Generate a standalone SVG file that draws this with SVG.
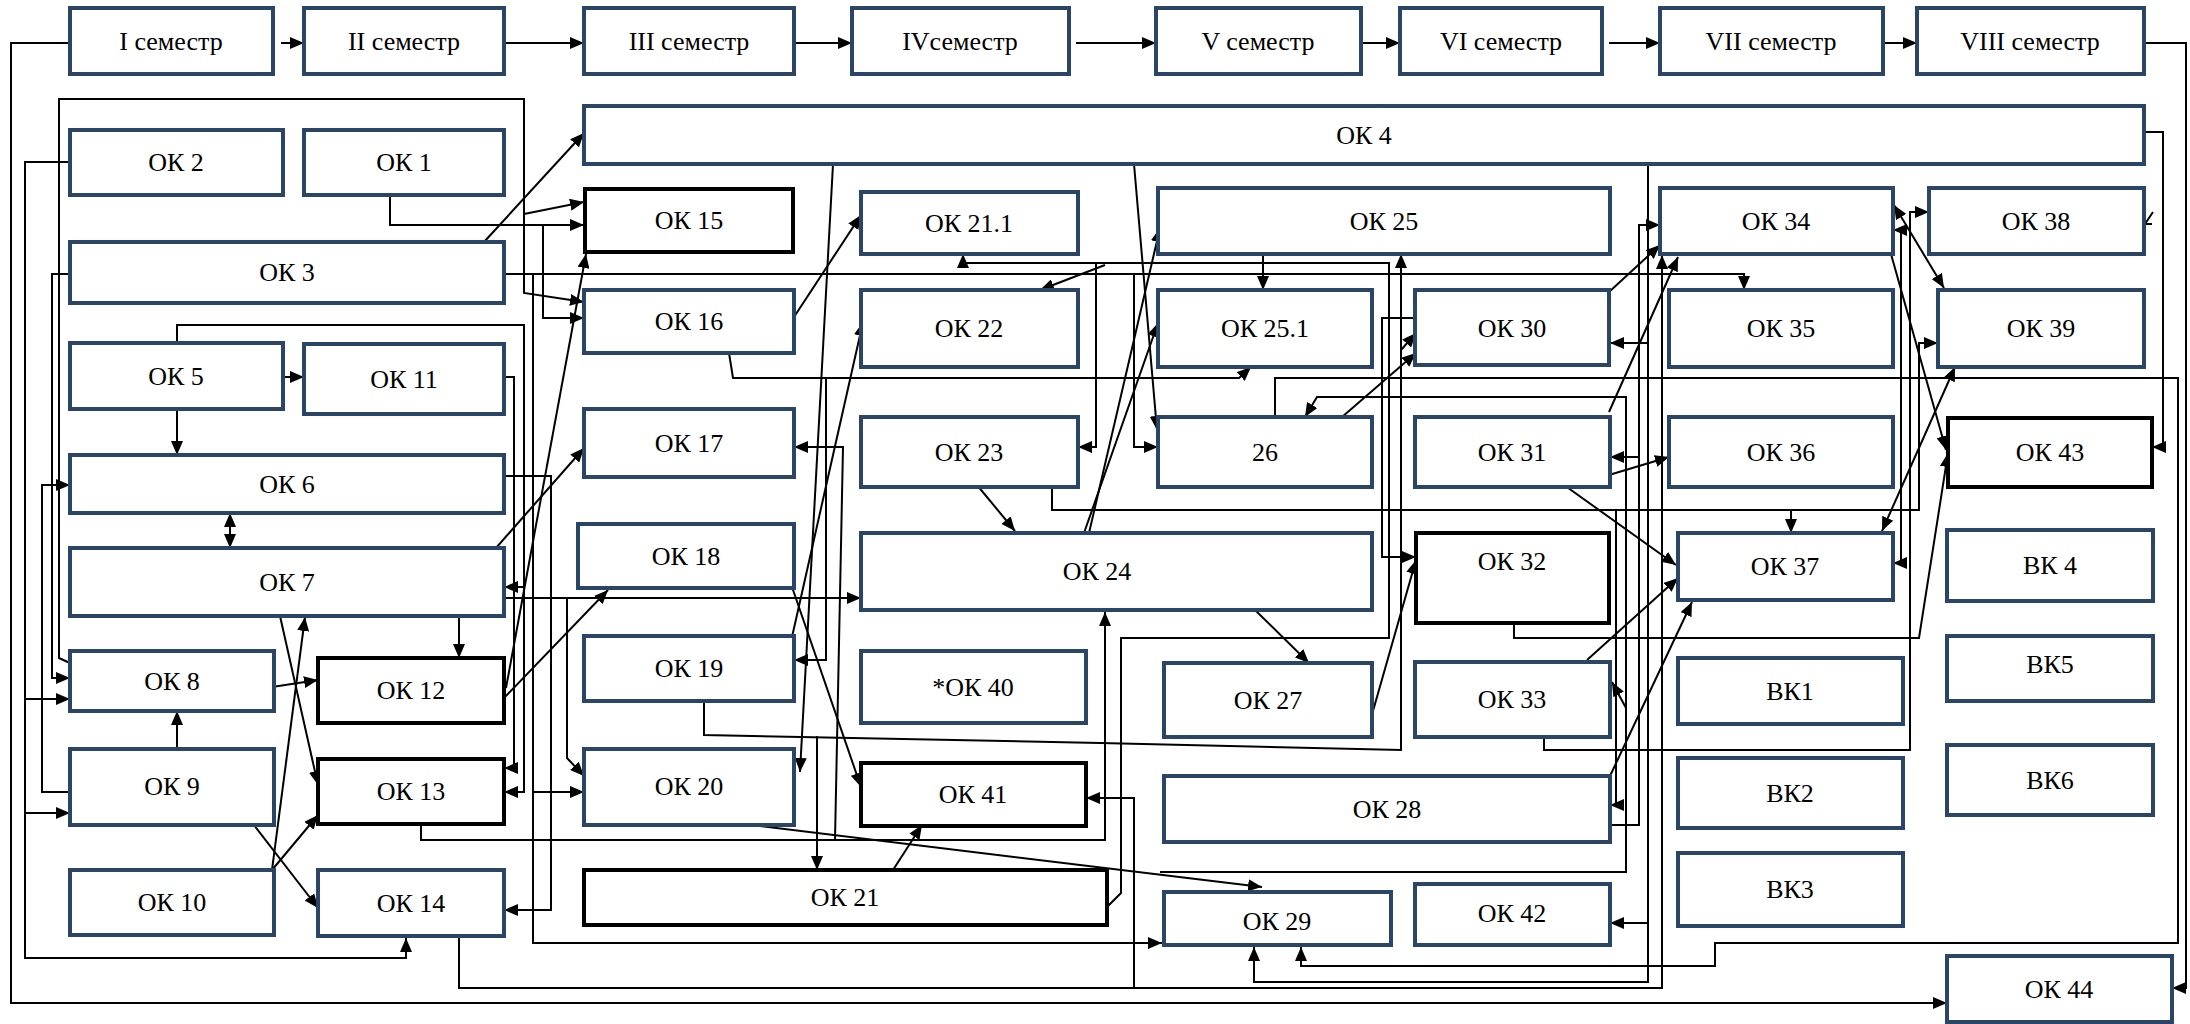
<svg xmlns="http://www.w3.org/2000/svg" width="2190" height="1024" viewBox="0 0 2190 1024">
<style>
.n rect{fill:#fff;stroke:#2b4566;stroke-width:4}
.b rect{fill:#fff;stroke:#000;stroke-width:4}
text{font-family:"Liberation Serif","Times New Roman",serif;font-size:26px;text-anchor:middle;fill:#000}
#conn path{fill:none;stroke:#000;stroke-width:2;marker-end:url(#a)}
#conn path.p{marker-end:none}
#conn path.d{marker-start:url(#a)}
</style>
<defs>
<marker id="a" viewBox="0 0 14 12" refX="14" refY="6" markerWidth="14" markerHeight="12" markerUnits="userSpaceOnUse" orient="auto-start-reverse"><path d="M0,0 L14,6 L0,12 z" fill="#000"/></marker>
</defs>
<rect width="2190" height="1024" fill="#fff"/>
<g id="conn">
<path d="M281,43 H304"/>
<path d="M504,43 H584"/>
<path d="M794,43 H852"/>
<path d="M1076,43 H1156"/>
<path d="M1361,43 H1400"/>
<path d="M1609,43 H1660"/>
<path d="M1883,43 H1917"/>
<path d="M2144,43 H2186 V988 H2172"/>
<path d="M70,43 H11 V1003 H1947"/>
<path d="M72,664 L59,658 V99 H524 V293 L584,302"/>
<path d="M524,214 L584,202"/>
<path d="M390,195 V225 H584"/>
<path d="M543,225 V318 H584"/>
<path d="M70,162 H25 V958 H406 V938"/>
<path d="M25,699 H70"/>
<path d="M25,813 H70"/>
<path d="M70,274 H52 V678 H70"/>
<path d="M70,792 H42 V485 H70"/>
<path d="M484,242 L584,133"/>
<path d="M504,274 H1744 V290"/>
<path d="M533,274 V943 H1162"/>
<path d="M533,792 H584"/>
<path d="M1134,274 V447 H1158"/>
<path d="M177,409 V455"/>
<path d="M283,377 H304"/>
<path d="M177,343 V325 H524 V792 H504"/>
<path d="M524,587 H504"/>
<path class="d" d="M230,513 V548"/>
<path d="M504,377 H514 V768 H504"/>
<path d="M504,476 H551 V910 H504"/>
<path d="M504,598 H861"/>
<path d="M567,598 V758 L584,776"/>
<path d="M496,548 L584,448"/>
<path d="M459,616 V658"/>
<path d="M280,616 L318,785"/>
<path d="M272,870 L305,617"/>
<path d="M272,870 L318,815"/>
<path d="M254,825 L318,908"/>
<path d="M272,687 L318,680"/>
<path d="M177,749 V711"/>
<path d="M506,688 L586,254"/>
<path d="M504,698 L608,590"/>
<path d="M421,824 V840 H1105 V612"/>
<path d="M835,840 L843,447 H794"/>
<path d="M459,936 V988 H1134 V798 H1086"/>
<path d="M1134,988 H1662 V255"/>
<path d="M794,317 L861,215"/>
<path d="M729,353 L733,378 H1239 L1251,367"/>
<path d="M826,378 V660 H794"/>
<path d="M833,164 L800,772"/>
<path d="M792,637 L863,322"/>
<path d="M792,587 L861,787"/>
<path d="M704,701 V735 L1100,743 L1401,750 V254"/>
<path d="M817,736 V870"/>
<path d="M751,825 L1262,887"/>
<path d="M893,870 L922,825"/>
<path d="M1107,907 L1121,893 V638 H1389 V263 H963 V254"/>
<path d="M1105,265 L1040,290"/>
<path d="M1096,263 V447 H1078"/>
<path d="M977,485 L1015,531"/>
<path d="M1052,487 V510 H1919 V343 H1938"/>
<path d="M1791,510 V533"/>
<path d="M1616,510 V805 H1610"/>
<path d="M1134,164 L1157,430"/>
<path d="M1089,533 L1160,228"/>
<path d="M1084,533 L1158,323"/>
<path d="M1263,254 V290"/>
<path d="M1255,610 L1309,663"/>
<path d="M1369,725 L1416,560"/>
<path d="M1416,318 H1382 V557 H1416"/>
<path d="M1342,417 L1416,353"/>
<path d="M1401,350 L1416,333"/>
<path d="M1275,417 V378 H2178 V943 H1715 V966 H1301 V947"/>
<path d="M1160,872 H1626 V397 H1317 L1305,417"/>
<path d="M1626,708 L1612,682"/>
<path d="M1609,292 L1660,245"/>
<path d="M1609,412 L1678,257"/>
<path d="M1609,475 L1669,457"/>
<path d="M1564,485 L1676,565"/>
<path d="M1587,660 L1678,578"/>
<path d="M1610,776 L1692,602"/>
<path d="M1610,825 H1639 V225 H1660"/>
<path d="M1639,457 H1610"/>
<path d="M1648,164 V982 H1254 V947"/>
<path d="M1648,343 H1610"/>
<path d="M1648,923 H1610"/>
<path d="M1544,737 V750 H1910 V212 H1929"/>
<path d="M1514,623 V638 H1919 L1948,453"/>
<path d="M1891,254 L1946,450"/>
<path class="d" d="M1894,205 L1944,288"/>
<path class="d" d="M1955,367 L1882,531"/>
<path class="d" d="M1893,230 H1901 V563 H1893"/>
<path d="M2144,132 H2163 V447 H2152"/>
<path class="p" d="M2153,212 L2145,224 H2152"/>
</g>
<g id="s1" class="n"><rect x="70" y="8" width="203" height="66"/><text x="171" y="50">I семестр</text></g>
<g id="s2" class="n"><rect x="304" y="8" width="200" height="66"/><text x="404" y="50">II семестр</text></g>
<g id="s3" class="n"><rect x="584" y="8" width="210" height="66"/><text x="689" y="50">III семестр</text></g>
<g id="s4" class="n"><rect x="852" y="8" width="217" height="66"/><text x="960" y="50">IVсеместр</text></g>
<g id="s5" class="n"><rect x="1156" y="8" width="205" height="66"/><text x="1258" y="50">V семестр</text></g>
<g id="s6" class="n"><rect x="1400" y="8" width="202" height="66"/><text x="1501" y="50">VI семестр</text></g>
<g id="s7" class="n"><rect x="1660" y="8" width="223" height="66"/><text x="1771" y="50">VII семестр</text></g>
<g id="s8" class="n"><rect x="1917" y="8" width="227" height="66"/><text x="2030" y="50">VIII семестр</text></g>
<g id="ok4" class="n"><rect x="584" y="106" width="1560" height="58"/><text x="1364" y="144">ОК 4</text></g>
<g id="ok2" class="n"><rect x="70" y="130" width="213" height="65"/><text x="176" y="171">ОК 2</text></g>
<g id="ok1" class="n"><rect x="304" y="130" width="200" height="65"/><text x="404" y="171">ОК 1</text></g>
<g id="ok3" class="n"><rect x="70" y="242" width="434" height="61"/><text x="287" y="281">ОК 3</text></g>
<g id="ok15" class="b"><rect x="585" y="189" width="208" height="63"/><text x="689" y="229">ОК 15</text></g>
<g id="ok21_1" class="n"><rect x="861" y="192" width="217" height="62"/><text x="969" y="232">ОК 21.1</text></g>
<g id="ok16" class="n"><rect x="584" y="290" width="210" height="63"/><text x="689" y="330">ОК 16</text></g>
<g id="ok22" class="n"><rect x="861" y="290" width="217" height="77"/><text x="969" y="337">ОК 22</text></g>
<g id="ok25" class="n"><rect x="1158" y="188" width="452" height="66"/><text x="1384" y="230">ОК 25</text></g>
<g id="ok25_1" class="n"><rect x="1158" y="290" width="214" height="77"/><text x="1265" y="337">ОК 25.1</text></g>
<g id="ok30" class="n"><rect x="1415" y="290" width="194" height="75"/><text x="1512" y="337">ОК 30</text></g>
<g id="ok34" class="n"><rect x="1660" y="188" width="233" height="66"/><text x="1776" y="230">ОК 34</text></g>
<g id="ok38" class="n"><rect x="1929" y="188" width="215" height="66"/><text x="2036" y="230">ОК 38</text></g>
<g id="ok35" class="n"><rect x="1669" y="290" width="224" height="77"/><text x="1781" y="337">ОК 35</text></g>
<g id="ok39" class="n"><rect x="1938" y="290" width="206" height="77"/><text x="2041" y="337">ОК 39</text></g>
<g id="ok5" class="n"><rect x="70" y="343" width="213" height="66"/><text x="176" y="385">ОК 5</text></g>
<g id="ok11" class="n"><rect x="304" y="344" width="200" height="70"/><text x="404" y="388">ОК 11</text></g>
<g id="ok6" class="n"><rect x="70" y="455" width="434" height="58"/><text x="287" y="493">ОК 6</text></g>
<g id="ok7" class="n"><rect x="70" y="548" width="434" height="68"/><text x="287" y="591">ОК 7</text></g>
<g id="ok8" class="n"><rect x="70" y="651" width="204" height="60"/><text x="172" y="690">ОК 8</text></g>
<g id="ok12" class="b"><rect x="318" y="658" width="186" height="65"/><text x="411" y="699">ОК 12</text></g>
<g id="ok9" class="n"><rect x="70" y="749" width="204" height="76"/><text x="172" y="795">ОК 9</text></g>
<g id="ok13" class="b"><rect x="318" y="759" width="186" height="65"/><text x="411" y="800">ОК 13</text></g>
<g id="ok10" class="n"><rect x="70" y="870" width="204" height="65"/><text x="172" y="911">ОК 10</text></g>
<g id="ok14" class="n"><rect x="318" y="870" width="186" height="66"/><text x="411" y="912">ОК 14</text></g>
<g id="ok17" class="n"><rect x="584" y="409" width="210" height="68"/><text x="689" y="452">ОК 17</text></g>
<g id="ok18" class="n"><rect x="578" y="524" width="216" height="64"/><text x="686" y="565">ОК 18</text></g>
<g id="ok19" class="n"><rect x="584" y="636" width="210" height="65"/><text x="689" y="677">ОК 19</text></g>
<g id="ok20" class="n"><rect x="584" y="749" width="210" height="76"/><text x="689" y="795">ОК 20</text></g>
<g id="ok21" class="b"><rect x="584" y="870" width="523" height="55"/><text x="845" y="906">ОК 21</text></g>
<g id="ok23" class="n"><rect x="861" y="417" width="217" height="70"/><text x="969" y="461">ОК 23</text></g>
<g id="ok24" class="n"><rect x="861" y="533" width="511" height="77"/><text x="1097" y="580">ОК 24</text></g>
<g id="ok40" class="n"><rect x="861" y="651" width="225" height="72"/><text x="973" y="696">*ОК 40</text></g>
<g id="ok41" class="b"><rect x="861" y="763" width="225" height="63"/><text x="973" y="803">ОК 41</text></g>
<g id="n26" class="n"><rect x="1158" y="417" width="214" height="70"/><text x="1265" y="461">26</text></g>
<g id="ok31" class="n"><rect x="1415" y="417" width="195" height="70"/><text x="1512" y="461">ОК 31</text></g>
<g id="ok32" class="b"><rect x="1416" y="533" width="193" height="90"/><text x="1512" y="570">ОК 32</text></g>
<g id="ok27" class="n"><rect x="1164" y="663" width="208" height="74"/><text x="1268" y="709">ОК 27</text></g>
<g id="ok33" class="n"><rect x="1415" y="662" width="195" height="75"/><text x="1512" y="708">ОК 33</text></g>
<g id="ok28" class="n"><rect x="1164" y="776" width="446" height="66"/><text x="1387" y="818">ОК 28</text></g>
<g id="ok29" class="n"><rect x="1164" y="892" width="227" height="53"/><text x="1277" y="930">ОК 29</text></g>
<g id="ok42" class="n"><rect x="1415" y="884" width="195" height="61"/><text x="1512" y="922">ОК 42</text></g>
<g id="ok36" class="n"><rect x="1669" y="417" width="224" height="70"/><text x="1781" y="461">ОК 36</text></g>
<g id="ok43" class="b"><rect x="1948" y="418" width="204" height="69"/><text x="2050" y="461">ОК 43</text></g>
<g id="ok37" class="n"><rect x="1678" y="533" width="215" height="67"/><text x="1785" y="575">ОК 37</text></g>
<g id="vk4" class="n"><rect x="1947" y="530" width="206" height="71"/><text x="2050" y="574">ВК 4</text></g>
<g id="vk5" class="n"><rect x="1947" y="636" width="206" height="65"/><text x="2050" y="673">ВК5</text></g>
<g id="vk1" class="n"><rect x="1678" y="658" width="225" height="66"/><text x="1790" y="700">ВК1</text></g>
<g id="vk2" class="n"><rect x="1678" y="758" width="225" height="70"/><text x="1790" y="802">ВК2</text></g>
<g id="vk3" class="n"><rect x="1678" y="853" width="225" height="73"/><text x="1790" y="898">ВК3</text></g>
<g id="vk6" class="n"><rect x="1947" y="745" width="206" height="70"/><text x="2050" y="789">ВК6</text></g>
<g id="ok44" class="n"><rect x="1947" y="956" width="225" height="66"/><text x="2059" y="998">ОК 44</text></g>
</svg>
